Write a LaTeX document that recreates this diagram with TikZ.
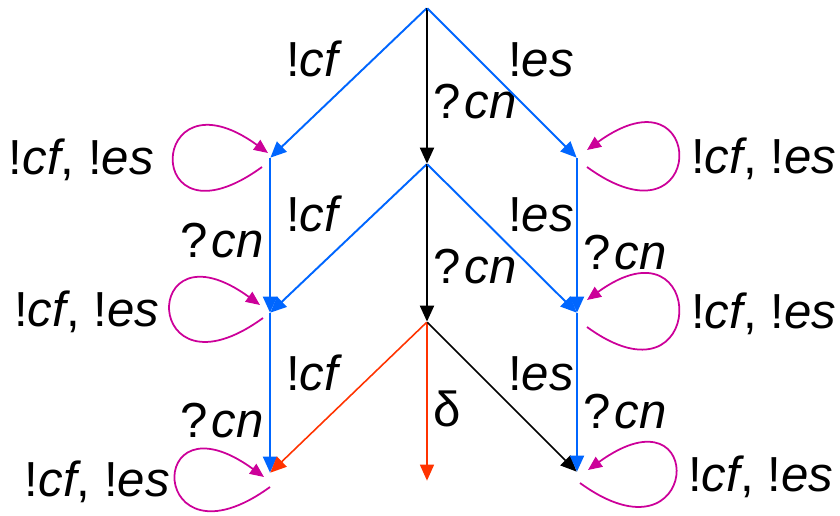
\documentclass[tikz,border=0pt]{standalone}
\usepackage{fontspec}
\setmainfont{Liberation Sans}
\usetikzlibrary{arrows.meta}
\definecolor{cBleu}{RGB}{0,102,255}
\definecolor{cRouge}{RGB}{255,51,0}
\definecolor{cMagenta}{RGB}{204,0,153}
\tikzset{
  etat/.style={inner sep=0pt, minimum size=0pt},
  fleche/.style={-{Triangle[length=3.2mm, width=2.8mm]}, line width=1.1pt, draw=#1},
  fleche/.default=black,
  boucle/.style={-{Triangle[length=2.8mm, width=2.4mm]}, line width=1pt, draw=cMagenta},
  etiq/.style={inner sep=3pt},
}
\begin{document}
\begin{tikzpicture}[x=0.02cm, y=0.02cm, font=\fontsize{28}{33}\selectfont]
  \useasboundingbox (0,0) rectangle (840,515);
  % états
  \node[etat] (h)  at (427,507) {};
  \node[etat] (g1) at (270,357) {};
  \node[etat] (m1) at (427,351) {};
  \node[etat] (d1) at (577,357) {};
  \node[etat] (g2) at (270,202) {};
  \node[etat] (m2) at (427,193) {};
  \node[etat] (d2) at (577,202) {};
  \node[etat] (g3) at (270,42) {};
  \node[etat] (m3) at (427,34) {};
  \node[etat] (d3) at (577,43) {};
  % transitions
  \draw[fleche=cBleu] (h) -- node[etiq, midway, above left] {!\textit{cf}} (g1);
  \draw[fleche] (h) -- node[etiq, pos=0.6, right] {?\kern0.08em\textit{cn}} (m1);
  \draw[fleche=cBleu] (h) -- node[etiq, midway, above right] {!\textit{es}} (d1);
  \draw[fleche=cBleu] (g1) -- node[etiq, pos=0.53, left] {?\kern0.08em\textit{cn}} (g2);
  \draw[fleche=cBleu] (m1) -- node[etiq, midway, above left] {!\textit{cf}} (g2);
  \draw[fleche] (m1) -- node[etiq, pos=0.65, right] {?\kern0.08em\textit{cn}} (m2);
  \draw[fleche=cBleu] (m1) -- node[etiq, midway, above right] {!\textit{es}} (d2);
  \draw[fleche=cBleu] (d1) -- node[etiq, pos=0.61, right] {?\kern0.08em\textit{cn}} (d2);
  \draw[fleche=cBleu] (g2) -- node[etiq, pos=0.67, left] {?\kern0.08em\textit{cn}} (g3);
  \draw[fleche=cRouge, line width=0.9pt] (m2) -- node[etiq, midway, above left] {!\textit{cf}} (g3);
  \draw[fleche=cRouge, line width=0.9pt] (m2) -- node[etiq, pos=0.55, right] {δ} (m3);
  \draw[fleche, line width=0.85pt] (m2) -- node[etiq, midway, above right] {!\textit{es}} (d3);
  \draw[fleche=cBleu] (d2) -- node[etiq, pos=0.62, right] {?\kern0.08em\textit{cn}} (d3);
  % boucles
  \foreach \n/\sx/\sy/\ex/\ey/\gap in {g1/-8/-9/-2/5/8pt, g2/-7/-5/-10/8/3pt, g3/0/-14/-6/-4/0pt}
    \draw[boucle] ([shift={(\sx,\sy)}]\n.center) to[out=216, in=144, distance=3cm]
      node[etiq, left=\gap] {!\textit{cf}, !\textit{es}} ([shift={(\ex,\ey)}]\n.center);
  \foreach \n/\sx/\sy/\ex/\ey/\gap in {d1/10/-9/10/8/4pt, d2/10/-14/10/13/4pt, d3/3/-11/11/2/4pt}
    \draw[boucle] ([shift={(\sx,\sy)}]\n.center) to[out=-36, in=36, distance=3cm]
      node[etiq, right=\gap] {!\textit{cf}, !\textit{es}} ([shift={(\ex,\ey)}]\n.center);
\end{tikzpicture}
\end{document}
